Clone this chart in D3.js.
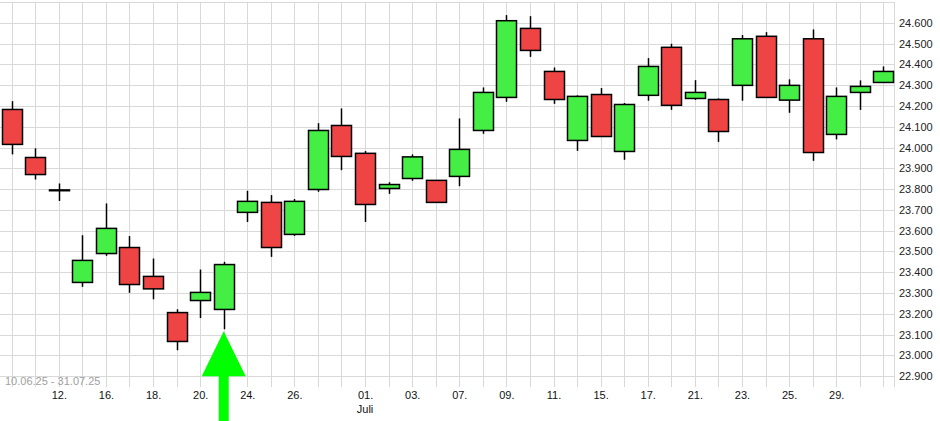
<!DOCTYPE html>
<html>
<head>
<meta charset="utf-8">
<script src="https://cdn.jsdelivr.net/npm/d3@7"></script>
<style>
  html, body { margin: 0; padding: 0; background: #fff; }
  svg { display: block; }
  text { font-family: "Liberation Sans", Arial, sans-serif; }
</style>
</head>
<body>
<svg id="chart" width="940" height="421"></svg>
<script>
// ---- data ----
const dates = ["2025-06-10","2025-06-11","2025-06-12","2025-06-13","2025-06-16","2025-06-17","2025-06-18","2025-06-19","2025-06-20",
  "2025-06-23","2025-06-24","2025-06-25","2025-06-26","2025-06-27","2025-06-30","2025-07-01","2025-07-02","2025-07-03","2025-07-04",
  "2025-07-07","2025-07-08","2025-07-09","2025-07-10","2025-07-11","2025-07-14","2025-07-15","2025-07-16","2025-07-17","2025-07-18",
  "2025-07-21","2025-07-22","2025-07-23","2025-07-24","2025-07-25","2025-07-28","2025-07-29","2025-07-30","2025-07-31"];
const open  = [24183,23952,23796,23351,23490,23519,23380,23206,23264,23221,23688,23736,23582,23798,24106,23972,23803,23851,23842,
  23861,24082,24241,24573,24366,24034,24255,23981,24251,24482,24236,24231,24299,24535,24228,24523,24063,24265,24313];
const high  = [24223,23996,23827,23578,23731,23574,23466,23222,23413,23450,23792,23771,23752,24117,24188,23983,23833,23967,23842,
  24140,24289,24637,24632,24385,24251,24286,24214,24430,24499,24324,24236,24541,24555,24328,24568,24289,24323,24390];
const low   = [23967,23846,23743,23330,23479,23301,23270,23025,23180,23126,23642,23474,23575,23787,23891,23642,23777,23840,23736,
  23814,24066,24220,24436,24210,23984,24053,23941,24225,24181,24229,24027,24225,24241,24167,23936,24039,24181,24313];
const close = [24015,23870,23796,23457,23611,23341,23320,23067,23303,23437,23741,23519,23741,24082,23957,23726,23822,23955,23736,
  23991,24265,24610,24467,24231,24246,24053,24207,24390,24203,24265,24077,24523,24241,24299,23976,24246,24294,24366];
const tickDates  = ["2025-06-12","2025-06-16","2025-06-18","2025-06-20","2025-06-24","2025-06-26","2025-07-01","2025-07-03",
  "2025-07-07","2025-07-09","2025-07-11","2025-07-15","2025-07-17","2025-07-21","2025-07-23","2025-07-25","2025-07-29"];
const tickLabels = ["12.","16.","18.","20.","24.","26.","01.","03.","07.","09.","11.","15.","17.","21.","23.","25.","29."];
const monthDates  = ["2025-07-01"];
const monthLabels = ["Juli"];
const yTicks = d3.range(22900, 24601, 100);
const rangeLabel = "10.06.25 - 31.07.25";
const signalDate = "2025-06-23";

// ---- layout ----
const W = 940, H = 421;
const plot = { left: 0, right: 894, top: 2, bottom: 387 };
const svg = d3.select("#chart");

const x = d3.scalePoint().domain(dates).range([11.7, 883.3]);
const y = d3.scaleLinear().domain([22848, 24700]).range([plot.bottom, plot.top]);
const de = d3.formatLocale({ decimal: ",", thousands: ".", grouping: [3], currency: ["", "€"] });
const fmt = de.format(",");

const gridColor = "#d9d9d9";
// horizontal grid
svg.append("g").selectAll("line").data(yTicks.concat([24700])).join("line")
  .attr("x1", plot.left).attr("x2", plot.right)
  .attr("y1", d => Math.round(y(d)) + 0.5).attr("y2", d => Math.round(y(d)) + 0.5)
  .attr("stroke", gridColor).attr("stroke-width", 1);
// vertical grid
svg.append("g").selectAll("line").data(dates).join("line")
  .attr("x1", d => Math.round(x(d)) + 0.5).attr("x2", d => Math.round(x(d)) + 0.5)
  .attr("y1", plot.top).attr("y2", plot.bottom)
  .attr("stroke", gridColor).attr("stroke-width", 1);
// right border
svg.append("line").attr("x1", plot.right + 0.5).attr("x2", plot.right + 0.5)
  .attr("y1", plot.top).attr("y2", plot.bottom).attr("stroke", gridColor);

// range label
svg.append("text").attr("x", 5).attr("y", 385).attr("font-size", 11).attr("fill", "#a0a0a0").text(rangeLabel);

// y axis
const yAxis = svg.append("g").attr("transform", `translate(${plot.right + 3},0)`)
  .call(d3.axisRight(y).tickValues(yTicks).tickFormat(fmt).tickSize(0).tickPadding(2));
yAxis.select(".domain").remove();
yAxis.selectAll("text").attr("font-size", 11).attr("fill", "#222").attr("font-family", "Liberation Sans, Arial, sans-serif");

// x axis
const xAxis = svg.append("g").attr("transform", `translate(0,${plot.bottom})`)
  .call(d3.axisBottom(x).tickValues(tickDates).tickFormat((d, i) => tickLabels[i]).tickSize(0).tickPadding(4));
xAxis.select(".domain").remove();
xAxis.selectAll("text").attr("font-size", 11).attr("fill", "#111").attr("font-family", "Liberation Sans, Arial, sans-serif");
svg.append("g").selectAll("text").data(monthDates).join("text")
  .attr("x", d => x(d)).attr("y", 413).attr("text-anchor", "middle")
  .attr("font-size", 11).attr("fill", "#111").text((d, i) => monthLabels[i]);

// candles
const bw = 20;
const idx = d3.range(dates.length);
const g = svg.append("g");
g.selectAll("line.wick").data(idx).join("line").attr("class", "wick")
  .attr("x1", i => Math.round(x(dates[i])) + 0.5).attr("x2", i => Math.round(x(dates[i])) + 0.5)
  .attr("y1", i => y(high[i])).attr("y2", i => y(low[i]))
  .attr("stroke", "#000").attr("stroke-width", 1.5);
g.selectAll("rect.body").data(idx).join("rect").attr("class", "body")
  .attr("x", i => Math.round(x(dates[i])) + 0.5 - bw / 2)
  .attr("width", bw)
  .attr("y", i => y(Math.max(open[i], close[i])))
  .attr("height", i => Math.max(0.8, Math.abs(y(open[i]) - y(close[i]))))
  .attr("fill", i => close[i] > open[i] ? "#44ee44" : (close[i] < open[i] ? "#ee4444" : "#000"))
  .attr("stroke", "#000").attr("stroke-width", 1.5);

// signal arrow
const ax = x(signalDate);
const tipY = y(low[dates.indexOf(signalDate)]) + 2;
const baseY = tipY + 45;
const path = d3.path();
path.moveTo(ax, tipY);
path.lineTo(ax + 22, baseY);
path.lineTo(ax + 5, baseY);
path.lineTo(ax + 5, H);
path.lineTo(ax - 5, H);
path.lineTo(ax - 5, baseY);
path.lineTo(ax - 22, baseY);
path.closePath();
svg.append("path").attr("d", path.toString()).attr("fill", "#00ff00");
</script>
</body>
</html>
